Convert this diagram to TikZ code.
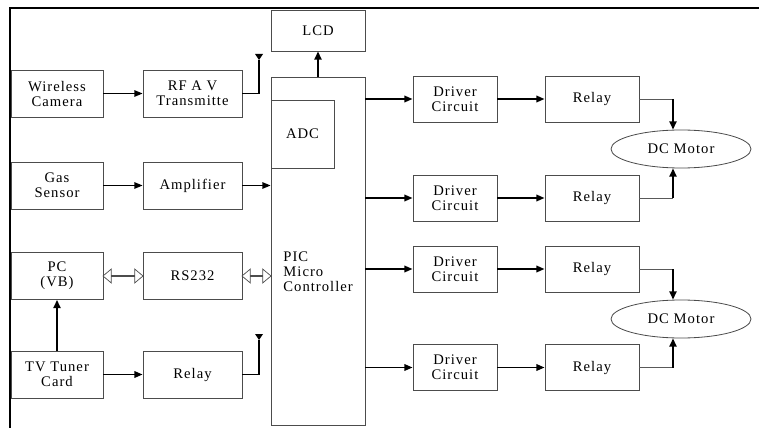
\documentclass[tikz,border=0pt]{standalone}
\usepackage{fontspec}
\setmainfont{Liberation Serif}[LetterSpace=7]
\usetikzlibrary{positioning}
\usetikzlibrary{shapes.geometric, shapes.arrows, arrows.meta, calc}

\begin{document}
\begin{tikzpicture}[x=0.03cm,y=-0.03cm,
  blk/.style={draw=black!70,line width=0.7pt,align=center,inner sep=0pt,font=\fontsize{12.5}{12.8}\selectfont},
  lbox/.style={blk,minimum width=2.76cm,minimum height=1.41cm},
  mbox/.style={blk,minimum width=2.97cm,minimum height=1.41cm},
  dbox/.style={blk,minimum width=2.52cm,minimum height=1.38cm},
  rbox/.style={blk,minimum width=2.82cm,minimum height=1.38cm},
  motor/.style={blk,ellipse,minimum width=4.2cm,minimum height=1.14cm},
  dblarr/.style={double arrow,draw=black!70,line width=0.6pt,minimum width=0.42cm,double arrow head extend=0.13cm,double arrow tip angle=80,inner sep=0pt,outer sep=0pt},
  frame/.style={line width=2.2pt},
  arr/.style={line width=1.1pt,-{Triangle[length=7pt,width=5.5pt]}},
  arrmid/.style={line width=1.6pt,-{Triangle[length=7pt,width=5.5pt]}},
  arrbig/.style={line width=2.2pt,-{Triangle[length=7pt,width=6pt]}},
  feed/.style={draw=black!65,line width=0.8pt},
  aerial/.style={line width=0.9pt}]
\useasboundingbox (0,0) rectangle (759,428);
\draw[frame] (759,8) -- (10,8) -- (10,428);

\node[blk,minimum width=2.82cm,minimum height=1.23cm] (lcd) at (318,30.5) {LCD};
\node[blk,minimum width=2.82cm,minimum height=10.44cm] (pic) at (318,251) {};
\node[blk,minimum width=1.89cm,minimum height=2.04cm] (adc) at (302.5,134) {ADC};
\node[blk,draw=none,anchor=north west,align=left] (pictxt) at (283,251) {PIC\\Micro\\Controller};

\node[lbox] (cam) at (57,93.5) {Wireless\\Camera};
\node[mbox] (rf) at (192.5,93.5) {RF A V\\Transmitte};
\node[lbox] (gas) at (57,185.5) {Gas\\Sensor};
\node[mbox] (amp) at (192.5,185.5) {Amplifier};
\node[lbox] (pc) at (57,276) {PC\\(VB)};
\node[mbox] (rs) at (192.5,276) {RS232};
\node[lbox] (tv) at (57,374.5) {TV Tuner\\Card};
\node[mbox] (rlyl) at (192.5,374.5) {Relay};

\draw[arr] (cam) -- (rf);
\draw[arr] (gas) -- (amp);
\draw[arr] (amp.east) -- (amp.east -| pic.west);
\draw[arrbig] (tv) -- (pc);
\draw[arrmid] (tv) -- (rlyl);
\draw[arrbig] (pic.north) -- (lcd.south);

\node[dblarr,minimum height=1.2cm] (pcrs) at ($(pc.east)!.5!(rs.west)$) {};
\node[dblarr,minimum height=0.87cm] (rspic) at ($(rs.east)!.5!(rs.east -| pic.west)$) {};

\coordinate (ant1) at (259,60);
\coordinate (ant2) at (259,340);
\draw[aerial] (rf.east) -| (ant1);
\fill (ant1) -- ++(-4,-6) -- ++(8,0) -- cycle;
\draw[aerial] (rlyl.east) -| (ant2);
\fill (ant2) -- ++(-4,-6) -- ++(8,0) -- cycle;

\node[dbox] (drv1) at (455,99) {Driver\\Circuit};
\node[dbox] (drv2) at (455,198) {Driver\\Circuit};
\node[dbox] (drv3) at (455,269) {Driver\\Circuit};
\node[dbox] (drv4) at (455,367.5) {Driver\\Circuit};
\node[rbox] (rly1) at (592,99) {Relay};
\node[rbox] (rly2) at (592,198) {Relay};
\node[rbox] (rly3) at (592,269) {Relay};
\node[rbox] (rly4) at (592,367.5) {Relay};

\draw[arrmid] (drv1.west -| pic.east) -- (drv1.west);
\draw[arrmid] (drv2.west -| pic.east) -- (drv2.west);
\draw[arrmid] (drv3.west -| pic.east) -- (drv3.west);
\draw[arrmid] (drv4.west -| pic.east) -- (drv4.west);
\draw[arrmid] (drv1) -- (rly1);
\draw[arrmid] (drv2) -- (rly2);
\draw[arrmid] (drv3) -- (rly3);
\draw[arrmid] (drv4) -- (rly4);

\node[motor] (mot1) at (681,149) {DC Motor};
\node[motor] (mot2) at (681,319) {DC Motor};
\coordinate (m1top) at ($(mot1.north)+(-8,0)$);
\coordinate (m1bot) at ($(mot1.south)+(-8,0)$);
\coordinate (m2top) at ($(mot2.north)+(-8,0)$);
\coordinate (m2bot) at ($(mot2.south)+(-8,0)$);
\draw[feed] (rly1.east) -- (rly1.east -| m1top);
\draw[arrbig] (rly1.east -| m1top) -- (m1top);
\draw[feed] (rly2.east) -- (rly2.east -| m1bot);
\draw[arrbig] (rly2.east -| m1bot) -- (m1bot);
\draw[feed] (rly3.east) -- (rly3.east -| m2top);
\draw[arrbig] (rly3.east -| m2top) -- (m2top);
\draw[feed] (rly4.east) -- (rly4.east -| m2bot);
\draw[arrbig] (rly4.east -| m2bot) -- (m2bot);
\end{tikzpicture}
\end{document}
